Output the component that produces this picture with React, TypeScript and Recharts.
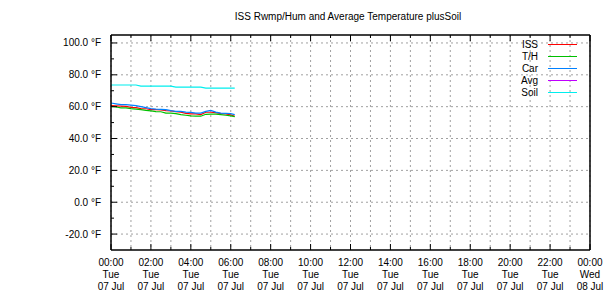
import React from 'react';
import { LineChart, Line, XAxis, YAxis, CartesianGrid, Legend } from 'recharts';

// readings every 15 minutes from midnight, hours since 00:00 Tue 07 Jul
const hours = [
  0, 0.25, 0.5, 0.75, 1, 1.25, 1.5, 1.75, 2, 2.25, 2.5, 2.75, 3,
  3.25, 3.5, 3.75, 4, 4.25, 4.5, 4.75, 5, 5.25, 5.5, 5.75, 6, 6.2,
];

const iss = [
  60.6, 60.5, 60.4, 60.2, 59.6, 59.4, 58.8, 58.7, 58.1, 58.1, 58.0, 57.5, 57.4,
  56.8, 56.6, 55.8, 55.5, 55.5, 55.0, 56.5, 56.5, 56.3, 55.6, 55.4, 54.8, 54.0,
];
const th = [
  60.2, 59.8, 59.2, 59.2, 58.8, 58.5, 58.2, 57.7, 57.3, 56.9, 56.8, 56.0, 56.0,
  55.6, 55.0, 54.6, 54.2, 54.0, 54.0, 55.2, 55.3, 55.3, 55.0, 54.6, 54.2, 53.8,
];
const car = [
  62.3, 61.8, 61.3, 61.3, 61.0, 60.6, 60.0, 59.4, 58.8, 58.5, 58.3, 58.1, 57.5,
  57.0, 57.0, 56.6, 56.4, 56.0, 56.0, 57.0, 57.6, 56.6, 56.0, 55.8, 55.6, 55.0,
];
const avg: number[] = []; // no average readings logged yet
const soil = [
  73.6, 73.6, 73.6, 73.6, 73.6, 73.6, 72.9, 72.9, 72.9, 72.9, 72.9, 72.9, 72.9,
  72.3, 72.3, 72.3, 72.3, 72.3, 72.3, 71.7, 71.7, 71.7, 71.7, 71.7, 71.7, 71.7,
];

const hourTicks = [0, 1, 2, 3, 4, 5, 6, 7, 8, 9, 10, 11, 12, 13, 14, 15, 16, 17, 18, 19, 20, 21, 22, 23, 24];
const tempTicks = [-20, -10, 0, 10, 20, 30, 40, 50, 60, 70, 80, 90, 100];
const gridTemps = [-20, 0, 20, 40, 60, 80, 100];

const timeLabels = ['00:00', '02:00', '04:00', '06:00', '08:00', '10:00', '12:00', '14:00', '16:00', '18:00', '20:00', '22:00', '00:00'];
const dayLabels = ['Tue', 'Tue', 'Tue', 'Tue', 'Tue', 'Tue', 'Tue', 'Tue', 'Tue', 'Tue', 'Tue', 'Tue', 'Wed'];
const dateLabels = ['07 Jul', '07 Jul', '07 Jul', '07 Jul', '07 Jul', '07 Jul', '07 Jul', '07 Jul', '07 Jul', '07 Jul', '07 Jul', '07 Jul', '08 Jul'];

const series = [
  { key: 'iss', name: 'ISS', color: '#ff0000' },
  { key: 'th', name: 'T/H', color: '#00c000' },
  { key: 'car', name: 'Car', color: '#0080ff' },
  { key: 'avg', name: 'Avg', color: '#c000ff' },
  { key: 'soil', name: 'Soil', color: '#00eeee' },
];

const data = hours.map((h, i) => ({
  h,
  iss: iss[i],
  th: th[i],
  car: car[i],
  avg: avg[i] ?? null,
  soil: soil[i],
}));

const FONT = '"Liberation Sans", Arial, sans-serif';

// bottom axis: inward tick marks every hour, labels every two hours
const BottomTick = ({ x, y, payload }: any) => {
  const h = payload.value as number;
  const major = h % 2 === 0;
  const i = h / 2;
  return (
    <g>
      <line x1={x} y1={y} x2={x} y2={y - (major ? 6 : 3)} stroke="#000" />
      {major && (
        <text x={x} textAnchor="middle" fontSize={10} fontFamily={FONT} fill="#000">
          <tspan x={x} y={y + 16}>{timeLabels[i]}</tspan>
          <tspan x={x} y={y + 28}>{dayLabels[i]}</tspan>
          <tspan x={x} y={y + 40}>{dateLabels[i]}</tspan>
        </text>
      )}
    </g>
  );
};

const TopTick = ({ x, y, payload }: any) => {
  const major = (payload.value as number) % 2 === 0;
  return <line x1={x} y1={y} x2={x} y2={y + (major ? 6 : 3)} stroke="#000" />;
};

const LeftTick = ({ x, y, payload }: any) => {
  const v = payload.value as number;
  const major = v % 20 === 0;
  return (
    <g>
      <line x1={x} y1={y} x2={x + (major ? 6 : 3)} y2={y} stroke="#000" />
      {major && (
        <text x={x - 10} y={y + 3.5} textAnchor="end" fontSize={10} fontFamily={FONT} fill="#000">
          {`${v.toFixed(1)} °F`}
        </text>
      )}
    </g>
  );
};

// key box in plot order, label to the left of its line sample
const renderLegend = () => (
  <svg width={120} height={70}>
    {series.map((s, i) => (
      <g key={s.key}>
        <text x={68} y={12 + i * 12} textAnchor="end" fontSize={10} fontFamily={FONT} fill="#000">
          {s.name}
        </text>
        <line x1={78} x2={107} y1={8.5 + i * 12} y2={8.5 + i * 12} stroke={s.color} />
      </g>
    ))}
  </svg>
);

export default function App() {
  return (
    <div style={{ position: 'absolute', left: 0, top: 0, width: 610, height: 300, background: '#fff', fontFamily: FONT }}>
      <svg width={610} height={30} style={{ position: 'absolute', left: 0, top: 0 }}>
        <text x={348} y={20} textAnchor="middle" fontSize={10} fontFamily={FONT} fill="#000">
          ISS Rwmp/Hum and Average Temperature plusSoil
        </text>
      </svg>
      <LineChart width={610} height={300} data={data} margin={{ top: 34, right: 0, bottom: 0, left: 0 }}>
        <CartesianGrid
          stroke="#a0a0a0"
          strokeDasharray="2 3"
          horizontalValues={gridTemps}
          verticalValues={hourTicks}
        />
        <XAxis
          dataKey="h"
          type="number"
          domain={[0, 24]}
          allowDataOverflow
          ticks={hourTicks}
          interval={0}
          height={50}
          tickSize={0}
          tickMargin={0}
          tickLine={false}
          axisLine={{ stroke: '#000', strokeWidth: 1.5 }}
          tick={<BottomTick />}
        />
        <XAxis
          xAxisId="top"
          orientation="top"
          dataKey="h"
          type="number"
          domain={[0, 24]}
          allowDataOverflow
          ticks={hourTicks}
          interval={0}
          height={1}
          tickSize={0}
          tickMargin={0}
          tickLine={false}
          axisLine={{ stroke: '#000', strokeWidth: 1.5 }}
          tick={<TopTick />}
        />
        <YAxis
          type="number"
          domain={[-30, 105]}
          allowDataOverflow
          ticks={tempTicks}
          interval={0}
          width={111}
          tickSize={0}
          tickMargin={0}
          tickLine={false}
          axisLine={{ stroke: '#000', strokeWidth: 1.5 }}
          tick={<LeftTick />}
        />
        <YAxis
          yAxisId="r"
          orientation="right"
          type="number"
          domain={[-30, 105]}
          allowDataOverflow
          width={20}
          tick={false}
          tickLine={false}
          axisLine={{ stroke: '#000', strokeWidth: 1.5 }}
        />
        {series.map((s) => (
          <Line
            key={s.key}
            dataKey={s.key}
            name={s.name}
            stroke={s.color}
            strokeWidth={1.2}
            type="linear"
            dot={false}
            connectNulls={false}
            isAnimationActive={false}
          />
        ))}
        <Legend
          layout="vertical"
          align="center"
          verticalAlign="middle"
          wrapperStyle={{ position: 'absolute', left: 470, top: 36, width: 120, height: 70 }}
          content={renderLegend}
        />
      </LineChart>
    </div>
  );
}
